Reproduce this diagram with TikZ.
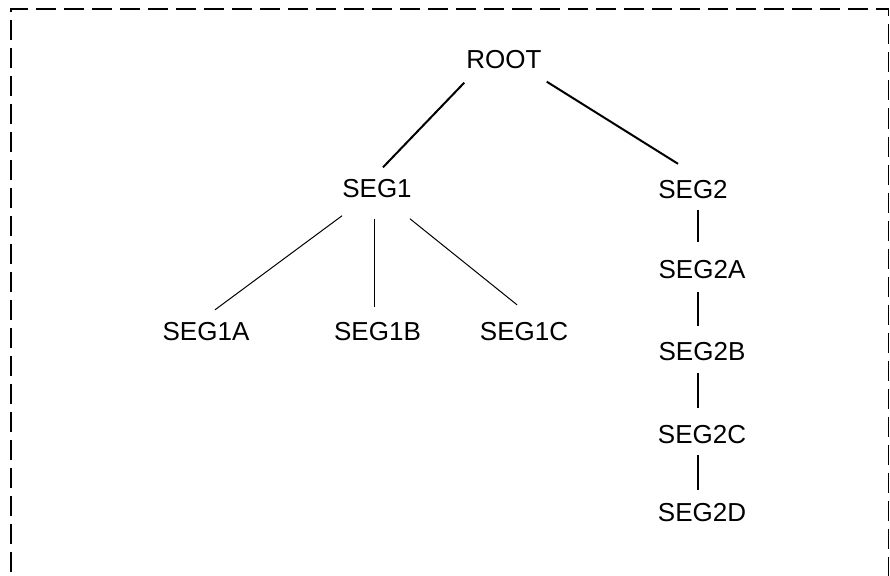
\documentclass[tikz,border=0pt]{standalone}
\usepackage{fontspec}
\setmainfont{Liberation Sans}
\usetikzlibrary{calc}
\begin{document}
\begin{tikzpicture}[x=1pt,y=1pt,
  lbl/.style={inner sep=0pt, text height=19pt, text depth=0pt, font=\fontsize{26}{26}\selectfont},
  thickln/.style={line width=2pt},
  thinln/.style={line width=1pt}]
\useasboundingbox (0,0) rectangle (890,-575);
\begin{scope}
\clip (0,0) rectangle (890,-575);
\draw[line width=1.3pt, dash pattern=on 20pt off 8pt] (11,-600) -- (11,-9) -- (888.5,-9) -- (888.5,-600);
\end{scope}
\node[lbl] (root)  at (504,-59)   {ROOT};
\node[lbl] (seg1)  at (377,-188)  {SEG1};
\node[lbl] (seg2)  at (693,-188.5){SEG2};
\node[lbl] (seg1a) at (206,-331)  {SEG1A};
\node[lbl] (seg1b) at (377.5,-331){SEG1B};
\node[lbl] (seg1c) at (524,-331)  {SEG1C};
\node[lbl] (seg2a) at (702,-268.5){SEG2A};
\node[lbl] (seg2b) at (702,-351)  {SEG2B};
\node[lbl] (seg2c) at (702,-434)  {SEG2C};
\node[lbl] (seg2d) at (702,-512)  {SEG2D};
% root connectors
\draw[thickln] ($(root.south west)+(-2,-14)$) -- ($(seg1.north)+(6,11)$);
\draw[thickln] ($(root.south east)+(5,-13)$) -- ($(seg2.north)+(-15,15)$);
% seg1 children
\draw[thinln] ($(seg1.south west)+(0,-18)$) -- ($(seg1a.north)+(9,11.5)$);
\draw[thinln] ($(seg1.south)+(-3,-21)$) -- ($(seg1b.north)+(-3.5,14.5)$);
\draw[thinln] ($(seg1.south east)+(-2,-21)$) -- ($(seg1c.north)+(-7,16.5)$);
% seg2 chain
\draw[thickln] ($(seg2.south)+(5,-12)$) -- ($(seg2a.north)+(-4,17)$);
\draw[thickln] ($(seg2a.south)+(-4,-14)$) -- ($(seg2b.north)+(-4,15.5)$);
\draw[thickln] ($(seg2b.south)+(-4,-12.5)$) -- ($(seg2c.north)+(-4,16.5)$);
\draw[thickln] ($(seg2c.south)+(-4,-11.5)$) -- ($(seg2d.north)+(-4,12.5)$);
\end{tikzpicture}
\end{document}
